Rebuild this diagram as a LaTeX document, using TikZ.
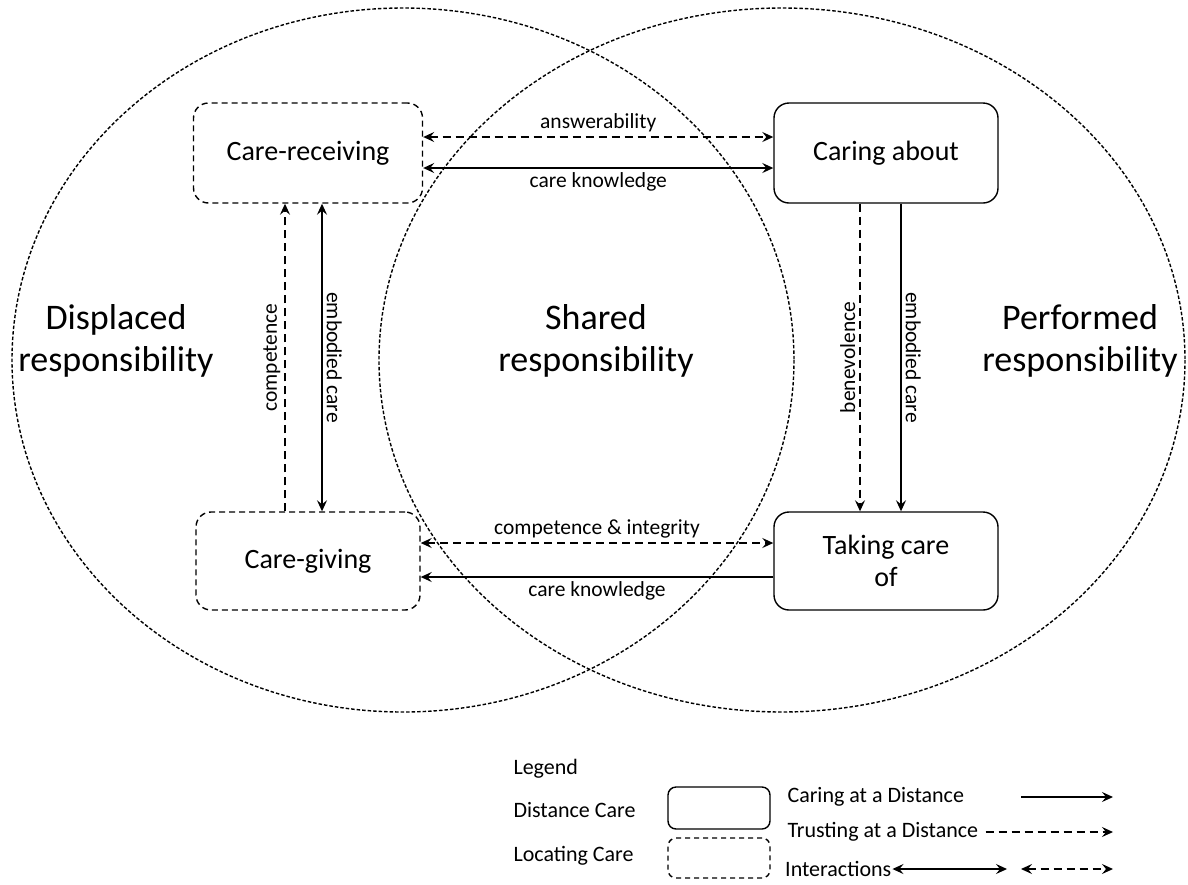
\documentclass[tikz,border=0pt]{standalone}
\usepackage{fontspec}
\setmainfont{Carlito}
\usetikzlibrary{arrows.meta}

\newcommand\regionfont{\fontsize{36}{42}\selectfont}
\newcommand\careboxfont{\fontsize{28}{32}\selectfont}
\newcommand\linkfont{\fontsize{21.5}{25}\selectfont}
\newcommand\legendfont{\fontsize{22}{26}\selectfont}

\begin{document}
\begin{tikzpicture}[x=1pt,y=-1pt,
    tip/.style={-{Stealth[length=11pt,width=10pt,inset=4pt]}},
    tips/.style={{Stealth[length=11pt,width=10pt,inset=4pt]}-{Stealth[length=11pt,width=10pt,inset=4pt]}},
    trust/.style={dash pattern=on 8pt off 5pt},
    link/.style={line width=1.3pt},
    carebox/.style={draw,line width=1.4pt,rounded corners=15pt,align=center,
      font=\careboxfont,minimum width=224pt,minimum height=98pt},
    locbox/.style={carebox,dash pattern=on 6pt off 4pt},
    region/.style={align=center,font=\regionfont},
    lbl/.style={font=\linkfont,inner sep=4pt}]
  \useasboundingbox (0,0) rectangle (1188,884);

  % the two responsibility areas
  \draw[line width=1.4pt,dash pattern=on 3.5pt off 2pt] (403,360) ellipse [x radius=391, y radius=352];
  \draw[line width=1.4pt,dash pattern=on 3.5pt off 2pt] (782,360) ellipse [x radius=403, y radius=352];

  \node[region] (displaced) at (116,341) {Displaced\\responsibility};
  \node[region] (shared) at (596,341) {Shared\\responsibility};
  \node[region] (performed) at (1080,341) {Performed\\responsibility};

  % phases of care
  \node[locbox,minimum width=229pt,minimum height=100pt] (receiving) at (308,153) {Care-receiving};
  \node[carebox,minimum height=100pt] (about) at (886,153) {Caring about};
  \node[locbox] (giving) at (308,561) {Care-giving};
  \node[carebox] (takingcare) at (886,561) {Taking care\\of};

  % interactions
  \draw[link,tips,trust] ([yshift=16pt]receiving.east) -- ([yshift=16pt]receiving.east -| about.west)
    node[lbl,midway,above] {answerability};
  \draw[link,tips] ([yshift=-15pt]receiving.east) -- ([yshift=-15pt]receiving.east -| about.west)
    node[lbl,midway,below] {care knowledge};
  \draw[link,tips,trust] ([yshift=18pt]giving.east) -- ([yshift=18pt]giving.east -| takingcare.west)
    node[lbl,midway,above] {competence \& integrity};
  \draw[link,tip] ([yshift=-16pt]takingcare.west) -- ([yshift=-16pt]takingcare.west -| giving.east)
    node[lbl,midway,below] {care knowledge};

  \draw[link,tip,trust] ([xshift=-23pt]giving.north) -- ([xshift=-23pt]receiving.south)
    node[lbl,midway,sloped,above] {competence};
  \draw[link,tips] ([xshift=14pt]receiving.south) -- ([xshift=14pt]giving.north)
    node[lbl,midway,sloped,above] {embodied care};
  \draw[link,tip,trust] ([xshift=-26pt]about.south) -- ([xshift=-26pt]takingcare.north)
    node[lbl,midway,rotate=90,anchor=south] {benevolence};
  \draw[link,tip] ([xshift=15pt]about.south) -- ([xshift=15pt]takingcare.north)
    node[lbl,midway,sloped,above] {embodied care};

  % legend
  \node[font=\legendfont,anchor=west] (legend) at (510,769) {Legend};
  \node[font=\legendfont,anchor=west] (distance) at (510,810) {Distance Care};
  \node[font=\legendfont,anchor=west] (locating) at (510,856) {Locating Care};
  \node[draw,line width=1.4pt,rounded corners=8pt,minimum width=102pt,minimum height=42pt] (distbox) at (719,808) {};
  \node[draw,line width=1.4pt,rounded corners=8pt,dash pattern=on 5pt off 4pt,minimum width=102pt,minimum height=40pt] (locbox) at (719,858) {};

  \node[font=\legendfont,anchor=west] (caring) at (784,797) {Caring at a Distance};
  \node[font=\legendfont,anchor=west] (trusting) at (784,832) {Trusting at a Distance};
  \node[font=\legendfont,anchor=west,inner xsep=1pt] (interact) at (784,869) {Interactions};
  \coordinate (caringend) at (1113,797);
  \coordinate (trustingend) at (1113,832);
  \coordinate (interactmid) at (1007,869);
  \coordinate (interactend) at (1113,869);
  \draw[link,tip] (caringend -| 1021,0) -- (caringend);
  \draw[link,tip,trust] ([xshift=4pt]trusting.east) -- (trustingend);
  \draw[link,tips] (interact.east) -- (interactmid);
  \draw[link,tips,trust] ([xshift=14pt]interactmid) -- (interactend);
\end{tikzpicture}
\end{document}
